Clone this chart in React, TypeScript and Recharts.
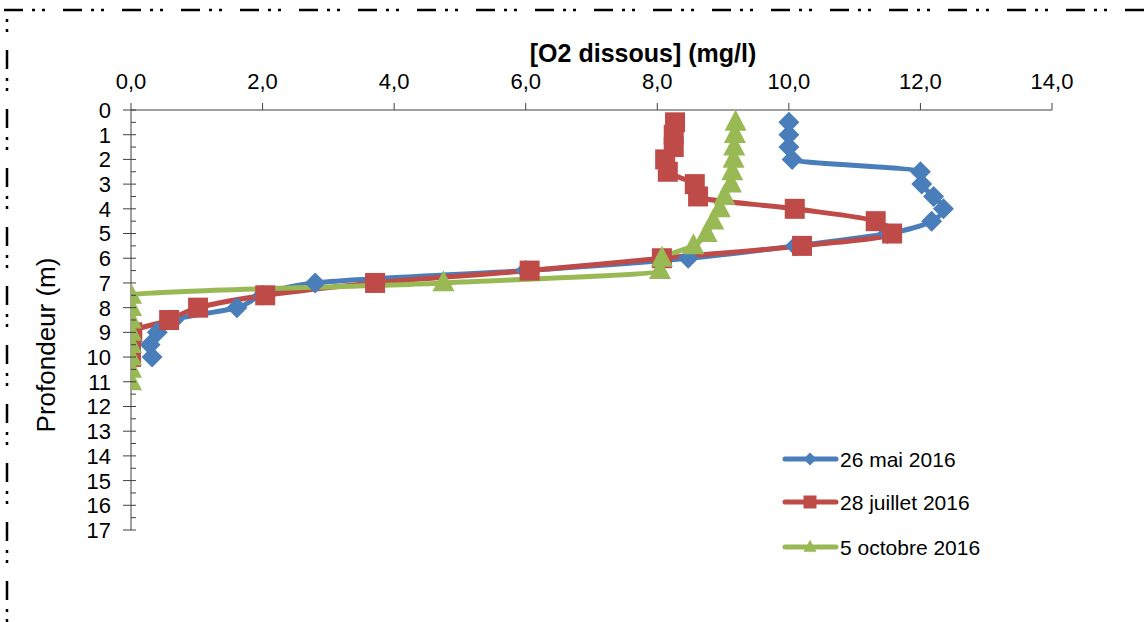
import React from 'react';
import { LineChart, Line, XAxis, YAxis } from 'recharts';

// ---- data ----
const xTicks = [0, 2, 4, 6, 8, 10, 12, 14];
const yTicks = [0, 0.5, 1, 1.5, 2, 2.5, 3, 3.5, 4, 4.5, 5, 5.5, 6, 6.5, 7, 7.5, 8, 8.5, 9, 9.5, 10, 10.5, 11, 11.5, 12, 12.5, 13, 13.5, 14, 14.5, 15, 15.5, 16, 16.5, 17];

const depthMai = [0.5, 1, 1.5, 2, 2.5, 3, 3.5, 4, 4.5, 5, 5.5, 6, 6.5, 7, 7.5, 8, 8.5, 9, 9.5, 10];
const o2Mai = [10.0, 10.0, 10.0, 10.05, 12.0, 12.02, 12.2, 12.35, 12.17, 11.5, 10.1, 8.47, 6.0, 2.8, 2.0, 1.61, 0.65, 0.4, 0.29, 0.32];

const depthJuillet = [0.5, 1, 1.5, 2, 2.5, 3, 3.5, 4, 4.5, 5, 5.5, 6, 6.5, 7, 7.5, 8, 8.5, 9, 9.5, 10];
const o2Juillet = [8.27, 8.25, 8.25, 8.12, 8.16, 8.57, 8.62, 10.09, 11.32, 11.57, 10.2, 8.07, 6.06, 3.71, 2.04, 1.02, 0.58, 0.02, 0.0, 0.0];

const depthOctobre = [0.5, 1, 1.5, 2, 2.5, 3, 3.5, 4, 4.5, 5, 5.5, 6, 6.5, 7, 7.5, 8, 8.5, 9, 9.5, 10, 10.5, 11];
const o2Octobre = [9.19, 9.18, 9.17, 9.16, 9.14, 9.12, 9.02, 8.95, 8.85, 8.75, 8.55, 8.07, 8.04, 4.75, 0, 0, 0, 0, 0, 0, 0, 0];

const seriesNames = ['26 mai 2016', '28 juillet 2016', '5 octobre 2016'];
const xTitle = '[O2 dissous] (mg/l)';
const yTitle = 'Profondeur (m)';

const BLUE = '#4A7EBB';
const RED = '#BE4B48';
const GREEN = '#98B954';
const FONT = '"Liberation Sans", Arial, Helvetica, sans-serif';

const toRows = (d: number[], v: number[]) => d.map((depth, i) => ({ depth, o2: v[i] }));
const dataMai = toRows(depthMai, o2Mai);
const dataJuillet = toRows(depthJuillet, o2Juillet);
const dataOctobre = toRows(depthOctobre, o2Octobre);

// ---- markers ----
const diamondShape = (cx: number, cy: number, r: number, fill: string, key?: string) => (
  <polygon key={key} points={`${cx},${cy - r} ${cx + r},${cy} ${cx},${cy + r} ${cx - r},${cy}`} fill={fill} />
);
const squareShape = (cx: number, cy: number, s: number, fill: string, key?: string) => (
  <rect key={key} x={cx - s / 2} y={cy - s / 2} width={s} height={s} fill={fill} />
);
const triangleShape = (cx: number, cy: number, w: number, h: number, fill: string, key?: string) => (
  <polygon key={key} points={`${cx},${cy - h * 0.6} ${cx + w / 2},${cy + h * 0.4} ${cx - w / 2},${cy + h * 0.4}`} fill={fill} />
);

const DiamondDot = (props: any) => {
  const { cx, cy, index } = props;
  if (cx == null || cy == null) return <g key={`dm${index}`} />;
  return diamondShape(cx, cy, 10.5, BLUE, `dm${index}`);
};
const SquareDot = (props: any) => {
  const { cx, cy, index } = props;
  if (cx == null || cy == null) return <g key={`sq${index}`} />;
  return squareShape(cx, cy, 20, RED, `sq${index}`);
};
const TriangleDot = (props: any) => {
  const { cx, cy, index } = props;
  if (cx == null || cy == null) return <g key={`tr${index}`} />;
  return triangleShape(cx, cy, 22, 21, GREEN, `tr${index}`);
};

// ---- y tick ----
const YTick = (props: any) => {
  const { x, y, payload } = props;
  const v = payload.value;
  const major = Math.abs(v - Math.round(v)) < 1e-6;
  return (
    <g>
      <line x1={major ? x - 8 : x} x2={x + 5} y1={y} y2={y} stroke="#404040" strokeWidth={1} />
      {major && (
        <text x={x - 20} y={y} dy="0.36em" textAnchor="end" fontSize={22} fill="#000" fontFamily={FONT}>
          {v}
        </text>
      )}
    </g>
  );
};

const fmtX = (v: number) => v.toFixed(1).replace('.', ',');

export default function App() {
  const legendRows = [
    { name: seriesNames[0], color: BLUE, y: 459, kind: 'd' },
    { name: seriesNames[1], color: RED, y: 502, kind: 's' },
    { name: seriesNames[2], color: GREEN, y: 547, kind: 't' },
  ];
  return (
    <div style={{ position: 'absolute', left: 0, top: 0, width: 1146, height: 622, background: '#fff', overflow: 'hidden' }}>
      <LineChart
        width={1146}
        height={622}
        layout="vertical"
        margin={{ top: 50, left: 71, right: 94, bottom: 92 }}
      >
        <XAxis
          type="number"
          orientation="top"
          dataKey="o2"
          domain={[0, 14]}
          ticks={xTicks}
          interval={0}
          height={60}
          tickFormatter={fmtX}
          tickSize={7}
          tickMargin={14}
          stroke="#404040"
          tick={{ fontSize: 22, fill: '#000', fontFamily: FONT }}
          allowDataOverflow
        />
        <YAxis
          type="number"
          dataKey="depth"
          domain={[0, 17]}
          ticks={yTicks}
          interval={0}
          width={60}
          tickSize={0}
          tickMargin={0}
          tickLine={false}
          stroke="#404040"
          tick={<YTick />}
          allowDataOverflow
        />
        <Line
          data={dataMai}
          dataKey="o2"
          name={seriesNames[0]}
          type="monotone"
          stroke={BLUE}
          strokeWidth={5}
          strokeLinejoin="round"
          strokeLinecap="round"
          dot={DiamondDot}
          activeDot={false}
          isAnimationActive={false}
        />
        <Line
          data={dataJuillet}
          dataKey="o2"
          name={seriesNames[1]}
          type="monotone"
          stroke={RED}
          strokeWidth={5}
          strokeLinejoin="round"
          strokeLinecap="round"
          dot={SquareDot}
          activeDot={false}
          isAnimationActive={false}
        />
        <Line
          data={dataOctobre}
          dataKey="o2"
          name={seriesNames[2]}
          type="monotone"
          stroke={GREEN}
          strokeWidth={5}
          strokeLinejoin="round"
          strokeLinecap="round"
          dot={TriangleDot}
          activeDot={false}
          isAnimationActive={false}
        />
      </LineChart>
      <svg width={1146} height={622} style={{ position: 'absolute', left: 0, top: 0, pointerEvents: 'none' }}>
        {/* frame */}
        <line x1={2} y1={10} x2={1146} y2={10} stroke="#000" strokeWidth={2.5} strokeDasharray="19 9 3 7 3 18" strokeDashoffset={-2} />
        <line x1={7} y1={10} x2={7} y2={622} stroke="#000" strokeWidth={2.5} strokeDasharray="19 9 3 7 3 18" strokeDashoffset={-40} />
        {/* axis titles */}
        <text x={643} y={62} textAnchor="middle" fontSize={25} fontWeight="bold" fontFamily={FONT} fill="#000">
          {xTitle}
        </text>
        <text
          x={0}
          y={0}
          transform="translate(55,345) rotate(-90)"
          textAnchor="middle"
          fontSize={26}
          fontFamily={FONT}
          fill="#000"
        >
          {yTitle}
        </text>
        {/* legend */}
        {legendRows.map((r) => (
          <g key={r.name}>
            <line x1={785} x2={836} y1={r.y} y2={r.y} stroke={r.color} strokeWidth={5} strokeLinecap="round" />
            {r.kind === 'd' && diamondShape(810, r.y, 6.5, r.color)}
            {r.kind === 's' && squareShape(810, r.y, 13, r.color)}
            {r.kind === 't' && triangleShape(810, r.y, 13, 12, r.color)}
            <text x={840} y={r.y} dy="0.36em" fontSize={21} fontFamily={FONT} fill="#000">
              {r.name}
            </text>
          </g>
        ))}
      </svg>
    </div>
  );
}
